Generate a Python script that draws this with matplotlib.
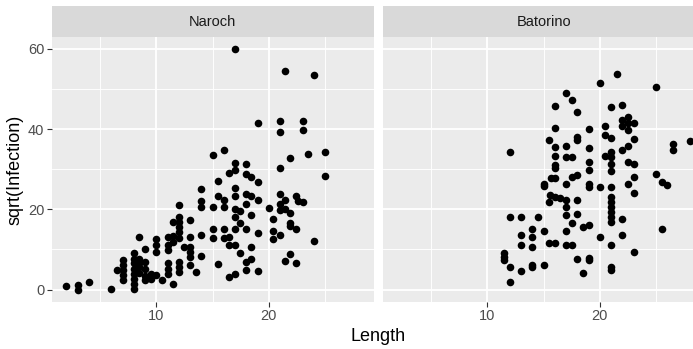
import matplotlib
matplotlib.use("Agg")
import matplotlib.pyplot as plt

# Fish length vs. square-root parasite infection, faceted by lake
naroch_length = [
    2.0, 3.0, 3.0, 4.0, 6.0, 6.5,
    7.0, 7.0, 7.0, 7.0, 7.0,
    8.0, 8.0, 8.0, 8.0, 8.0, 8.0, 8.0, 8.0,
    8.5, 8.5, 8.5, 8.5, 8.5,
    9.0, 9.0, 9.0, 9.0, 9.0,
    9.5, 9.5,
    10.0, 10.0, 10.0, 10.0,
    10.5,
    11.0, 11.0, 11.0, 11.0, 11.0, 11.0,
    11.5, 11.5, 11.5, 11.5,
    12.0, 12.0, 12.0, 12.0, 12.0, 12.0, 12.0, 12.0, 12.0,
    12.5,
    13.0, 13.0, 13.0, 13.0, 13.0, 13.0,
    13.5,
    14.0, 14.0, 14.0, 14.0, 14.0,
    15.0, 15.0, 15.0, 15.0,
    15.5, 15.5, 15.5,
    16.0, 16.0, 16.0, 16.0, 16.0,
    16.5, 16.5, 16.5, 16.5,
    17.0, 17.0, 17.0, 17.0, 17.0, 17.0, 17.0, 17.0, 17.0, 17.0,
    17.4, 17.4, 17.4,
    18.0, 18.0, 18.0, 18.0, 18.0, 18.0, 18.0,
    18.4, 18.4, 18.4, 18.4, 18.4,
    19.0, 19.0, 19.0, 19.0, 19.0,
    20.0,
    20.4, 20.4, 20.4,
    21.0, 21.0, 21.0, 21.0, 21.0, 21.0, 21.0,
    21.4, 21.4, 21.4, 21.4,
    21.9, 21.9, 21.9, 21.9, 21.9,
    22.4, 22.4, 22.4,
    22.6,
    23.0, 23.0, 23.0,
    23.5,
    24.0, 24.0,
    25.0, 25.0,
]
naroch_sqrt_infection = [
    0.9, 1.1, 0.0, 2.0, 0.1, 4.8,
    7.3, 6.1, 4.8, 3.6, 2.3,
    9.1, 7.7, 6.5, 5.2, 4.0, 2.7, 1.5, 0.1,
    13.1, 7.7, 6.5, 5.5, 4.2,
    10.0, 6.9, 5.2, 3.5, 2.3,
    4.0, 2.6,
    12.7, 11.0, 9.4, 3.6,
    2.3,
    13.1, 11.1, 9.8, 6.5, 5.2, 4.0,
    16.9, 13.3, 11.9, 1.5,
    21.2, 18.1, 16.9, 15.6, 14.4, 12.9, 6.9, 5.7, 4.4,
    10.6,
    17.3, 13.1, 10.6, 9.4, 8.1, 6.1,
    4.4,
    25.0, 22.1, 20.6, 13.5, 8.4,
    33.5, 20.6, 15.2, 12.9,
    27.1, 23.3, 6.3,
    34.9, 22.4, 20.6, 15.2, 12.9,
    29.1, 13.1, 11.0, 3.2,
    60.0, 31.6, 29.9, 25.4, 23.3, 20.0, 18.1, 15.2, 11.0, 3.8,
    19.6, 16.6, 9.2,
    31.4, 28.7, 23.8, 21.3, 15.2, 6.9, 5.0,
    28.1, 23.3, 18.5, 10.6, 7.6,
    41.6, 26.8, 22.4, 14.1, 4.7,
    20.4,
    17.5, 14.6, 12.5,
    42.0, 39.3, 30.2, 23.7, 21.4, 19.8, 13.5,
    54.5, 22.3, 20.0, 7.1,
    32.9, 19.1, 16.6, 15.8, 8.8,
    23.3, 15.0, 6.7,
    22.0,
    42.0, 39.7, 21.9,
    33.7,
    53.4, 12.1,
    34.3, 28.3,
]

batorino_length = [
    11.5, 11.5, 11.5,
    12.0, 12.0, 12.0, 12.0,
    13.0, 13.0, 13.0, 13.0,
    14.0, 14.0, 14.0, 14.0, 14.0,
    14.5,
    15.0, 15.0, 15.0, 15.0,
    15.5, 15.5, 15.5,
    15.6, 15.7,
    16.0, 16.0, 16.0, 16.0, 16.0, 16.0, 16.0, 16.0, 16.0,
    16.5,
    17.0, 17.0, 17.0, 17.0, 17.0, 17.0, 17.0, 17.0, 17.0,
    17.5, 17.5, 17.5, 17.5, 17.5,
    18.0, 18.0, 18.0, 18.0, 18.0, 18.0, 18.0,
    18.5, 18.5,
    19.0, 19.0, 19.0, 19.0, 19.0, 19.0, 19.0, 19.0, 19.0,
    20.0, 20.0, 20.0,
    20.5, 20.5, 20.5,
    21.0, 21.0, 21.0, 21.0, 21.0, 21.0, 21.0, 21.0, 21.0, 21.0,
    21.0, 21.0, 21.0, 21.0, 21.0, 21.0,
    21.5,
    22.0, 22.0, 22.0, 22.0, 22.0, 22.0,
    22.5, 22.5, 22.5, 22.5, 22.5, 22.5,
    23.0, 23.0, 23.0, 23.0, 23.0, 23.0,
    25.0, 25.0,
    25.5, 25.5,
    26.0,
    26.5, 26.5,
    28.0,
]
batorino_sqrt_infection = [
    9.0, 8.0, 7.3,
    34.3, 18.0, 5.6, 1.9,
    18.1, 13.5, 11.1, 4.6,
    15.2, 13.1, 10.6, 6.2, 5.5,
    18.1,
    14.7, 6.0, 26.3, 25.8,
    37.2, 21.8, 11.6,
    23.5, 27.9,
    45.7, 40.2, 35.5, 33.3, 31.0, 30.2, 27.7, 23.1, 11.6,
    22.7,
    49.0, 35.8, 33.0, 26.3, 22.3, 20.7, 18.5, 14.7, 11.2,
    47.2, 33.1, 28.0, 16.7, 11.2,
    44.2, 38.0, 37.3, 28.5, 22.3, 18.8, 7.5,
    15.5, 4.1,
    40.1, 35.2, 31.8, 29.8, 26.3, 25.6, 16.1, 7.8, 7.3,
    51.5, 25.5, 13.1,
    40.7, 38.5, 33.2,
    45.5, 37.9, 34.3, 33.0, 31.4, 29.5, 25.6, 23.1, 21.9, 20.6,
    19.3, 18.1, 16.8, 11.0, 5.6, 4.8,
    53.8,
    46.0, 42.3, 40.8, 34.8, 17.7, 13.5,
    42.9, 41.6, 39.7, 35.7, 31.8, 26.2,
    41.4, 37.6, 31.3, 28.1, 24.1, 9.3,
    50.5, 28.9,
    26.8, 15.2,
    26.1,
    36.2, 34.8,
    37.1,
]

lakes = ["Naroch", "Batorino"]
x_ticks = [10, 20]
x_minor = [5, 15, 25]
y_ticks = [0, 20, 40, 60]
y_minor = [10, 30, 50]

plt.rcParams["font.family"] = ["Liberation Sans", "DejaVu Sans"]

W, H = 693, 349
fig = plt.figure(figsize=(W / 100, H / 100), dpi=100)
fig.patch.set_facecolor("white")

panel_lefts = [51.7, 382.7]
panel_w = 322.3
panel_top, panel_bot = 37.0, 302.0
strip_top = 6.0

series = [(naroch_length, naroch_sqrt_infection),
          (batorino_length, batorino_sqrt_infection)]

for i, (lake, (xs, ys)) in enumerate(zip(lakes, series)):
    left = panel_lefts[i]
    ax = fig.add_axes([left / W, 1 - panel_bot / H, panel_w / W,
                       (panel_bot - panel_top) / H])
    ax.set_facecolor("#EBEBEB")
    ax.set_xlim(0.7, 29.35)
    ax.set_ylim(-3.1, 62.95)
    ax.set_xticks(x_ticks)
    ax.set_xticks(x_minor, minor=True)
    ax.set_yticks(y_ticks)
    ax.set_yticks(y_minor, minor=True)
    ax.grid(which="major", color="white", linewidth=1.3)
    ax.grid(which="minor", color="white", linewidth=0.65)
    ax.set_axisbelow(True)
    for s in ax.spines.values():
        s.set_visible(False)
    ax.tick_params(which="minor", length=0)
    ax.tick_params(which="major", length=3.3, width=0.8, color="#333333",
                   labelsize=10.5, labelcolor="#4D4D4D", pad=2)
    if i == 1:
        ax.tick_params(axis="y", which="both", left=False, labelleft=False)
    ax.scatter(xs, ys, s=30, c="black", linewidths=0, zorder=3)

    sax = fig.add_axes([left / W, 1 - panel_top / H, panel_w / W,
                        (panel_top - strip_top) / H])
    sax.set_facecolor("#D9D9D9")
    sax.set_xticks([])
    sax.set_yticks([])
    for s in sax.spines.values():
        s.set_visible(False)
    sax.text(0.5, 0.48, lake, transform=sax.transAxes, ha="center",
             va="center", fontsize=10.5, color="#1A1A1A")

fig.text(15 / W, 1 - 169.5 / H, "sqrt(Infection)", rotation=90,
         ha="center", va="center", fontsize=13, color="black")
fig.text(378.4 / W, 1 - 336.7 / H, "Length", ha="center", va="center",
         fontsize=13, color="black")

fig.savefig("out.png", dpi=100)
